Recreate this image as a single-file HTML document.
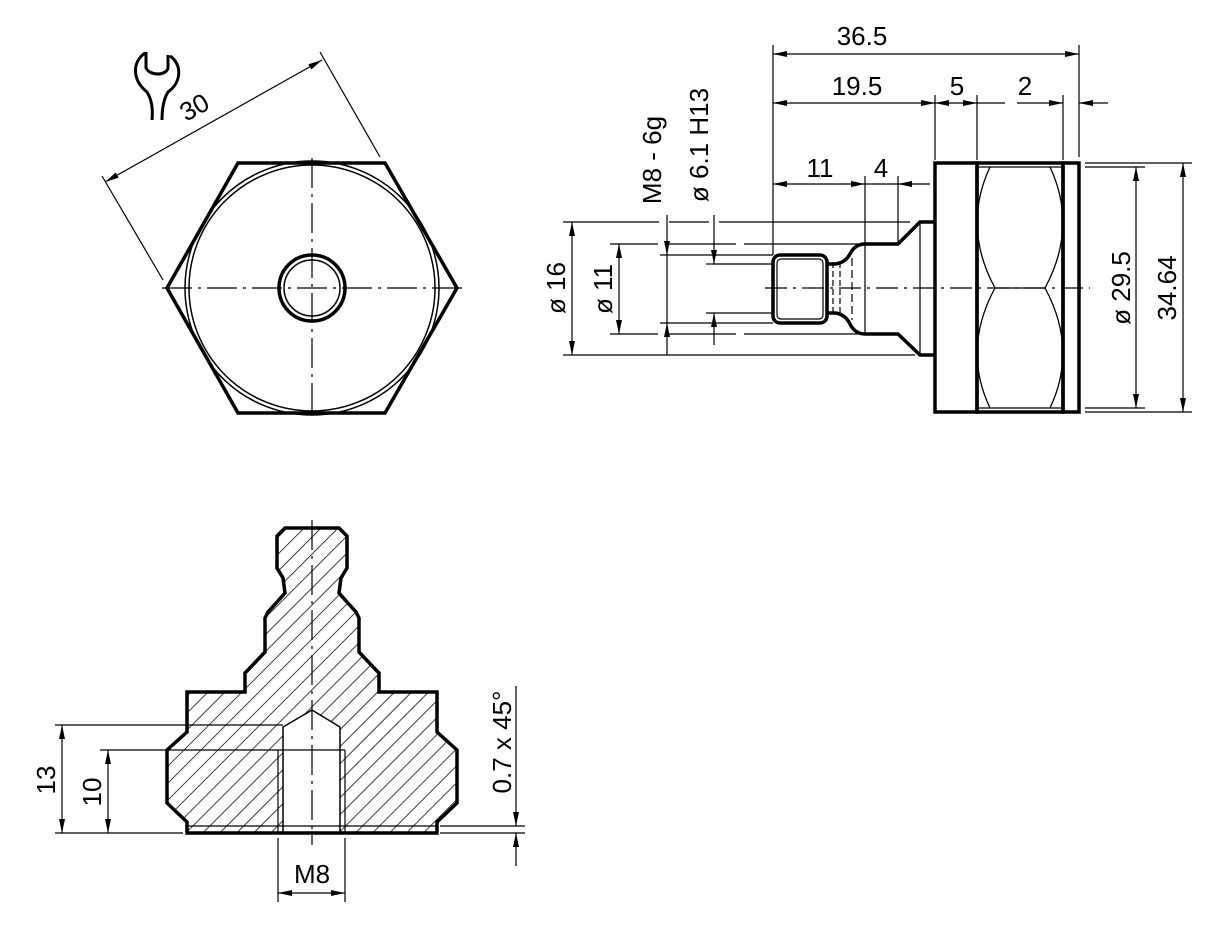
<!DOCTYPE html>
<html><head><meta charset="utf-8"><style>
html,body{margin:0;padding:0;background:#fff;}
svg{display:block;}
text{font-family:"Liberation Sans",sans-serif;font-size:26px;fill:#000;}
</style></head><body>
<svg width="1217" height="933" viewBox="0 0 1217 933" xmlns="http://www.w3.org/2000/svg">
<defs>
<marker id="a" viewBox="0 0 14 6" refX="14" refY="3" markerWidth="14" markerHeight="6" markerUnits="userSpaceOnUse" orient="auto-start-reverse">
<path d="M0,0 L14,3 L0,6 z" fill="#000"/></marker>
<pattern id="h" width="12" height="12" patternUnits="userSpaceOnUse" patternTransform="rotate(45)">
<line x1="0" y1="0" x2="0" y2="12" stroke="#000" stroke-width="1.5"/></pattern>
<clipPath id="sec"><path id="secp" d="M285,528 L339,528 L347,536 L347,568 L341,578 L339,593 L356,612 L359,618 L359,652 L376,670 L379,673 L379,692 L437,692 L437,732 L457,750 L457,803 L437,822 L437,833 L187,833 L187,822 L167,803 L167,750 L187,732 L187,692 L245,692 L245,673 L248,670 L265,652 L265,618 L268,612 L285,593 L283,578 L277,568 L277,536 Z"/></clipPath>
</defs>
<g fill="none" stroke="#000">
<polygon points="167,288 238,163 385,163 457,288 385,413 238,413" stroke-width="3.5"/>
<circle cx="312" cy="288" r="127" stroke-width="1.5"/>
<circle cx="312" cy="288" r="123" stroke-width="1.5"/>
<circle cx="312" cy="288" r="33" stroke-width="3.5"/>
<circle cx="312" cy="288" r="28" stroke-width="1.5"/>
<line x1="162" y1="288" x2="462" y2="288" stroke-width="1.2" stroke-dasharray="30,6,3,6"/>
<line x1="312" y1="158" x2="312" y2="418" stroke-width="1.2" stroke-dasharray="30,6,3,6"/>
<line x1="102" y1="176" x2="163" y2="280" stroke-width="1.2"/>
<line x1="320" y1="52" x2="380" y2="157" stroke-width="1.2"/>
<line x1="105" y1="182" x2="322" y2="60" stroke-width="1.2" marker-start="url(#a)" marker-end="url(#a)"/>
<path d="M145,53 C132,62 132,80 147,92 C152,100 153,110 152,120" stroke-width="3"/>
<path d="M170,56 C182,64 182,82 168,92 C163,100 162,110 162,120" stroke-width="3"/>
<path d="M146,52 L146,68 C150,76 166,76 168,68 L168,55" stroke-width="3"/>
<rect x="935" y="163" width="42" height="249" stroke-width="3.5"/>
<rect x="977" y="163" width="86" height="249" stroke-width="3.5"/>
<rect x="1063" y="163" width="16" height="249" stroke-width="3.5"/>
<line x1="977" y1="167" x2="1063" y2="167" stroke-width="1.2"/>
<line x1="977" y1="408" x2="1063" y2="408" stroke-width="1.2"/>
<path d="M990,167 Q962,227 995,288 Q962,349 990,408" stroke-width="1.3"/>
<path d="M1050,167 Q1078,227 1045,288 Q1078,349 1050,408" stroke-width="1.3"/>
<line x1="995" y1="288" x2="1045" y2="288" stroke-width="1.2"/>
<path d="M935,222 L920,222 L898,244 L865,244 Q855,244 850,254 Q845,263 835,264 L827,264" stroke-width="3.5"/>
<path d="M935,355 L920,355 L898,334 L865,334 Q855,334 850,324 Q845,314 835,313 L827,313" stroke-width="3.5"/>
<line x1="920" y1="222" x2="920" y2="355" stroke-width="1.2"/>
<line x1="865" y1="244" x2="865" y2="334" stroke-width="1.2"/>
<rect x="773" y="255" width="54" height="68" rx="7" stroke-width="3.5"/>
<rect x="777" y="259" width="46" height="60" rx="4" stroke-width="1.2"/>
<line x1="833" y1="262" x2="833" y2="316" stroke-width="1.2" stroke-dasharray="6,3"/>
<line x1="840" y1="262" x2="840" y2="316" stroke-width="1.2" stroke-dasharray="6,3"/>
<line x1="852" y1="258" x2="852" y2="320" stroke-width="1.2" stroke-dasharray="8,4"/>
<line x1="765" y1="288" x2="1090" y2="288" stroke-width="1.2" stroke-dasharray="22,6,3,6"/>
<line x1="773" y1="45" x2="773" y2="255" stroke-width="1.2"/>
<line x1="1079" y1="45" x2="1079" y2="157" stroke-width="1.2"/>
<line x1="935" y1="95" x2="935" y2="160" stroke-width="1.2"/>
<line x1="977" y1="95" x2="977" y2="160" stroke-width="1.2"/>
<line x1="1063" y1="95" x2="1063" y2="160" stroke-width="1.2"/>
<line x1="773" y1="54" x2="1079" y2="54" stroke-width="1.2" marker-start="url(#a)" marker-end="url(#a)"/>
<line x1="773" y1="103" x2="935" y2="103" stroke-width="1.2" marker-start="url(#a)" marker-end="url(#a)"/>
<line x1="935" y1="103" x2="977" y2="103" stroke-width="1.2" marker-start="url(#a)" marker-end="url(#a)"/>
<line x1="1017" y1="103" x2="1063" y2="103" stroke-width="1.2" marker-end="url(#a)"/>
<line x1="1108" y1="103" x2="1079" y2="103" stroke-width="1.2" marker-end="url(#a)"/>
<line x1="977" y1="103" x2="1005" y2="103" stroke-width="1.2"/>
<line x1="1085" y1="163" x2="1192" y2="163" stroke-width="1.2"/>
<line x1="1085" y1="412" x2="1192" y2="412" stroke-width="1.2"/>
<line x1="1085" y1="167" x2="1145" y2="167" stroke-width="1.2"/>
<line x1="1085" y1="408" x2="1145" y2="408" stroke-width="1.2"/>
<line x1="1136" y1="167" x2="1136" y2="408" stroke-width="1.2" marker-start="url(#a)" marker-end="url(#a)"/>
<line x1="1183" y1="163" x2="1183" y2="412" stroke-width="1.2" marker-start="url(#a)" marker-end="url(#a)"/>
<line x1="865" y1="176" x2="865" y2="244" stroke-width="1.2"/>
<line x1="898" y1="176" x2="898" y2="244" stroke-width="1.2"/>
<line x1="773" y1="184" x2="865" y2="184" stroke-width="1.2" marker-start="url(#a)" marker-end="url(#a)"/>
<line x1="930" y1="184" x2="898" y2="184" stroke-width="1.2" marker-end="url(#a)"/>
<line x1="865" y1="184" x2="898" y2="184" stroke-width="1.2"/>
<line x1="563" y1="222" x2="910" y2="222" stroke-width="1.2" stroke-dasharray="96,10,40,10,200"/>
<line x1="563" y1="355" x2="915" y2="355" stroke-width="1.2"/>
<line x1="610" y1="244" x2="860" y2="244" stroke-width="1.2" stroke-dasharray="48,8,70,8,200"/>
<line x1="610" y1="334" x2="860" y2="334" stroke-width="1.2" stroke-dasharray="48,8,70,8,200"/>
<line x1="660" y1="255" x2="773" y2="255" stroke-width="1.2"/>
<line x1="660" y1="323" x2="773" y2="323" stroke-width="1.2"/>
<line x1="706" y1="264" x2="773" y2="264" stroke-width="1.2"/>
<line x1="706" y1="313" x2="773" y2="313" stroke-width="1.2"/>
<line x1="572" y1="222" x2="572" y2="355" stroke-width="1.2" marker-start="url(#a)" marker-end="url(#a)"/>
<line x1="619" y1="244" x2="619" y2="334" stroke-width="1.2" marker-start="url(#a)" marker-end="url(#a)"/>
<line x1="667" y1="215" x2="667" y2="255" stroke-width="1.2" marker-end="url(#a)"/>
<line x1="667" y1="355" x2="667" y2="323" stroke-width="1.2" marker-end="url(#a)"/>
<line x1="667" y1="255" x2="667" y2="323" stroke-width="1.2"/>
<line x1="714" y1="215" x2="714" y2="264" stroke-width="1.2" marker-end="url(#a)"/>
<line x1="714" y1="345" x2="714" y2="313" stroke-width="1.2" marker-end="url(#a)"/>
<rect x="150" y="520" width="320" height="320" fill="url(#h)" stroke="none" clip-path="url(#sec)"/>
<path d="M283,833 L283,727 L312,710 L340,727 L340,833 Z" fill="#fff" stroke="none"/>
<path d="M278,750 L278,833 M345,750 L345,833" stroke-width="1.2"/>
<path d="M283,833 L283,727 L312,710 L340,727 L340,833" stroke-width="1.5"/>
<use href="#secp" stroke-width="3.5"/>
<line x1="437" y1="826" x2="187" y2="826" stroke-width="1.2"/>
<line x1="312" y1="520" x2="312" y2="845" stroke-width="1.2" stroke-dasharray="30,6,3,6"/>
<line x1="55" y1="725" x2="283" y2="725" stroke-width="1.2"/>
<line x1="100" y1="750" x2="345" y2="750" stroke-width="1.2"/>
<line x1="55" y1="833" x2="183" y2="833" stroke-width="1.2"/>
<line x1="62" y1="725" x2="62" y2="833" stroke-width="1.2" marker-start="url(#a)" marker-end="url(#a)"/>
<line x1="108" y1="750" x2="108" y2="833" stroke-width="1.2" marker-start="url(#a)" marker-end="url(#a)"/>
<line x1="278" y1="838" x2="278" y2="902" stroke-width="1.2"/>
<line x1="345" y1="838" x2="345" y2="902" stroke-width="1.2"/>
<line x1="278" y1="893" x2="345" y2="893" stroke-width="1.2" marker-start="url(#a)" marker-end="url(#a)"/>
<line x1="440" y1="826" x2="525" y2="826" stroke-width="1.2"/>
<line x1="440" y1="833" x2="525" y2="833" stroke-width="1.2"/>
<line x1="516" y1="686" x2="516" y2="826" stroke-width="1.2" marker-end="url(#a)"/>
<line x1="516" y1="866" x2="516" y2="833" stroke-width="1.2" marker-end="url(#a)"/>
</g>
<text transform="translate(186,122) rotate(-29)">30</text>
<text x="862" y="45" text-anchor="middle">36.5</text>
<text x="857" y="95" text-anchor="middle">19.5</text>
<text x="957" y="95" text-anchor="middle">5</text>
<text x="1025" y="95" text-anchor="middle">2</text>
<text x="820" y="177" text-anchor="middle">11</text>
<text x="881" y="177" text-anchor="middle">4</text>
<text transform="translate(661,160) rotate(-90)" text-anchor="middle">M8 - 6g</text>
<text transform="translate(708,145) rotate(-90)" text-anchor="middle">ø 6.1 H13</text>
<text transform="translate(565,288) rotate(-90)" text-anchor="middle">ø 16</text>
<text transform="translate(612,289) rotate(-90)" text-anchor="middle">ø 11</text>
<text transform="translate(1130,288) rotate(-90)" text-anchor="middle">ø 29.5</text>
<text transform="translate(1176,288) rotate(-90)" text-anchor="middle">34.64</text>
<text transform="translate(55,780) rotate(-90)" text-anchor="middle">13</text>
<text transform="translate(101,792) rotate(-90)" text-anchor="middle">10</text>
<text transform="translate(511,742) rotate(-90)" text-anchor="middle">0.7 x 45°</text>
<text x="312" y="883" text-anchor="middle">M8</text>
</svg>
</body></html>
